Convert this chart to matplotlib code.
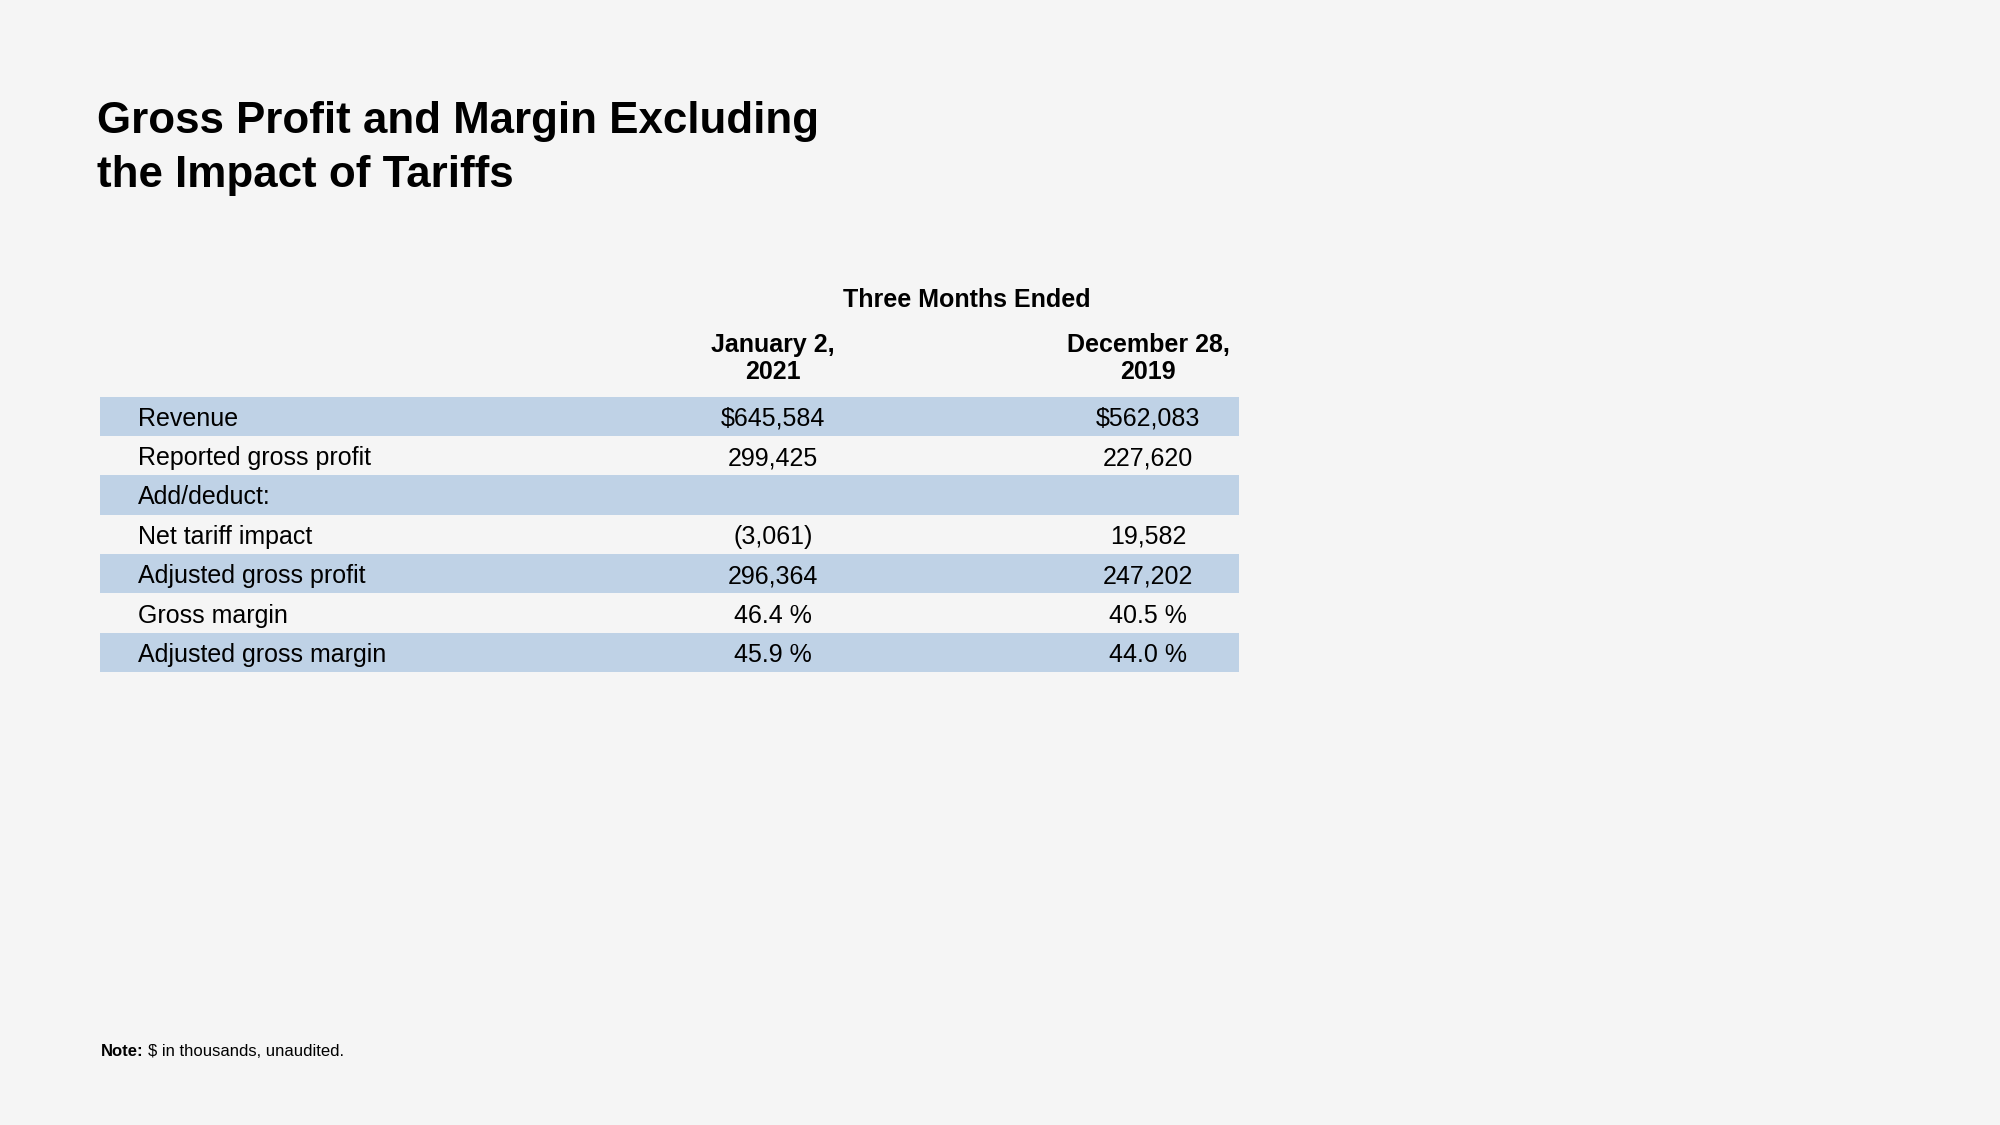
import matplotlib.pyplot as plt

plt.rcParams['font.family'] = ['Liberation Sans', 'DejaVu Sans']

# data
row_labels = ['Revenue', 'Reported gross profit', 'Add/deduct:', 'Net tariff impact',
              'Adjusted gross profit', 'Gross margin', 'Adjusted gross margin']
col_2021 = ['$645,584', '299,425', '', '(3,061)', '296,364', '46.4 %', '45.9 %']
col_2019 = ['$562,083', '227,620', '', '19,582', '247,202', '40.5 %', '44.0 %']
col_headers = ['January 2,\n2021', 'December 28,\n2019']
group_header = 'Three Months Ended'
shaded = [True, False, True, False, True, False, True]

bg = '#f5f5f5'
band = '#bfd2e6'

fig = plt.figure(figsize=(20, 11.25), dpi=100, facecolor=bg)
ax = fig.add_axes([0, 0, 1, 1])
ax.set_xlim(0, 2000)
ax.set_ylim(1125, 0)
ax.axis('off')

# title
ax.text(97, 122, 'Gross Profit and Margin Excluding', fontsize=31.6, fontweight='bold',
        va='center', ha='left')
ax.text(97, 176, 'the Impact of Tariffs', fontsize=31.6, fontweight='bold',
        va='center', ha='left')

# table geometry (pixels)
left, right = 100, 1239
top, row_h = 396.5, 39.4
label_x = 138
col_x = [773, 1148]

# header
ax.text(sum(col_x) / 2 + 6, 300, group_header, fontsize=18, fontweight='bold',
        ha='center', va='center')
for x, h in zip(col_x, col_headers):
    ax.text(x, 358.5, h, fontsize=18, fontweight='bold', ha='center', va='center',
            linespacing=1.2)

# rows
centers = [top + row_h * (i + 0.5) for i in range(len(row_labels))]
for yc, s in zip(centers, shaded):
    if s:
        ax.barh(yc, right - left, left=left, height=row_h, color=band, linewidth=0)
for yc, lab, a, b in zip(centers, row_labels, col_2021, col_2019):
    ax.text(label_x, yc + 2.5, lab, fontsize=18, ha='left', va='center')
    ax.text(col_x[0], yc + 2.5, a, fontsize=18, ha='center', va='center')
    ax.text(col_x[1], yc + 2.5, b, fontsize=18, ha='center', va='center')

# note
ax.text(101, 1051, 'Note:', fontsize=12, fontweight='bold', ha='left', va='center')
ax.text(148, 1051, '$ in thousands, unaudited.', fontsize=12, ha='left', va='center')

fig.savefig('out.png', dpi=100, facecolor=bg)
